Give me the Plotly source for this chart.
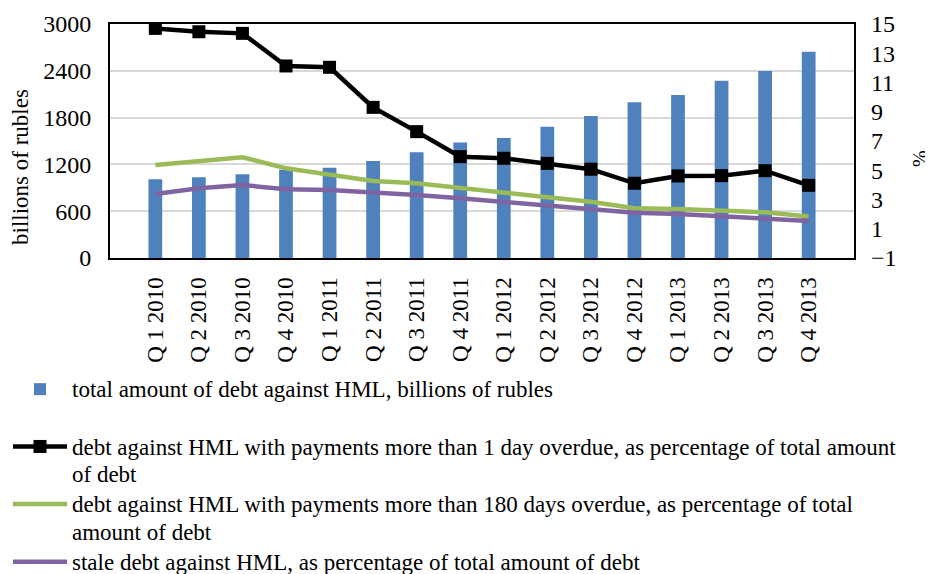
import plotly.graph_objects as go

quarters = ["Q 1 2010", "Q 2 2010", "Q 3 2010", "Q 4 2010",
            "Q 1 2011", "Q 2 2011", "Q 3 2011", "Q 4 2011",
            "Q 1 2012", "Q 2 2012", "Q 3 2012", "Q 4 2012",
            "Q 1 2013", "Q 2 2013", "Q 3 2013", "Q 4 2013"]

total_debt = [1009, 1034, 1073, 1130, 1158, 1244, 1357, 1480,
              1538, 1684, 1821, 1996, 2090, 2273, 2397, 2645]

overdue_1day = [14.7, 14.47, 14.36, 12.13, 12.04, 9.3, 7.64, 5.93,
                5.82, 5.47, 5.07, 4.11, 4.61, 4.63, 4.97, 3.97]

overdue_180 = [5.36, 5.63, 5.89, 5.13, 4.72, 4.26, 4.11, 3.77,
               3.42, 3.15, 2.85, 2.40, 2.35, 2.23, 2.12, 1.83]

stale_debt = [3.38, 3.77, 3.99, 3.70, 3.65, 3.49, 3.31, 3.08,
              2.85, 2.62, 2.40, 2.10, 2.01, 1.87, 1.71, 1.53]

left_ticks = [0, 600, 1200, 1800, 2400, 3000]
right_ticks = [-1, 1, 3, 5, 7, 9, 11, 13, 15]

names = [
    "total amount of debt against HML, billions of rubles",
    "debt against HML with payments more than 1 day overdue, as percentage of total amount<br>of debt",
    "debt against HML with payments more than 180 days overdue, as percentage of total<br>amount of debt",
    "stale debt against HML, as percentage of total amount of debt",
]

FONT = "Liberation Serif"

# the page body has an 8px margin, so the figure is drawn 8px in from the
# window's top-left corner; all positions below are relative to the figure.
W, H = 925, 566
L, T, R, B = 102, 16, 79, 316
PW = W - L - R
PH = H - T - B


def lg(t):
    return '<span style="font-size:23px">' + t.replace("<br>", '</span><br><span style="font-size:23px">') + "</span>"


fig = go.Figure()
fig.add_trace(go.Bar(x=quarters, y=total_debt, name=lg(names[0]),
                     marker=dict(color="#4F81BD", line=dict(width=0)),
                     legendgroup="a", yaxis="y"))
fig.add_trace(go.Scatter(x=quarters, y=overdue_1day, name=lg(names[1]),
                         mode="lines+markers",
                         line=dict(color="black", width=4.5),
                         marker=dict(symbol="square", size=13, color="black"),
                         legendgroup="b", yaxis="y2"))
fig.add_trace(go.Scatter(x=quarters, y=overdue_180, name=lg(names[2]),
                         mode="lines", line=dict(color="#9BBB59", width=4.5),
                         legendgroup="b", yaxis="y2"))
fig.add_trace(go.Scatter(x=quarters, y=stale_debt, name=lg(names[3]),
                         mode="lines", line=dict(color="#8064A2", width=4.5),
                         legendgroup="b", yaxis="y2"))

fig.update_layout(
    width=W, height=H,
    margin=dict(l=L, r=R, t=T, b=B, autoexpand=False),
    paper_bgcolor="white", plot_bgcolor="white",
    font=dict(family=FONT, size=23, color="black"),
    bargap=0.684,
    showlegend=True,
    legend=dict(xref="container", yref="container", x=0.0, y=1 - 361 / H,
                xanchor="left", yanchor="top",
                font=dict(family=FONT, size=21, color="black"),
                itemwidth=54, valign="top", traceorder="grouped",
                tracegroupgap=27, bgcolor="rgba(0,0,0,0)",
                itemclick=False, itemdoubleclick=False),
    xaxis=dict(type="category", tickangle=-90, ticks="",
               tickfont=dict(family=FONT, size=23, color="black"),
               showline=True, linecolor="black", linewidth=2, mirror=True,
               showgrid=False, ticklabelstandoff=8),
    yaxis=dict(range=[0, 3000], tickvals=left_ticks, ticks="",
               tickfont=dict(family=FONT, size=24, color="black"),
               showline=True, linecolor="black", linewidth=2, mirror=True,
               showgrid=True, gridcolor="#D9D9D9", gridwidth=1.5,
               zeroline=False, ticklabelstandoff=12),
    yaxis2=dict(range=[-1, 15], tickvals=right_ticks, ticks="",
                overlaying="y", side="right",
                tickfont=dict(family=FONT, size=24, color="black"),
                showgrid=False, zeroline=False, showline=False,
                ticklabelstandoff=16),
    annotations=[
        dict(text="billions of rubles", xref="paper", yref="paper",
             x=(12 - L) / PW, y=(PH - (159 - T)) / PH, textangle=-90,
             showarrow=False, xanchor="center", yanchor="middle",
             font=dict(family=FONT, size=23, color="black")),
        dict(text="%", xref="paper", yref="paper",
             x=(912 - L) / PW, y=(PH - (150 - T)) / PH, textangle=-90,
             showarrow=False, xanchor="center", yanchor="middle",
             font=dict(family=FONT, size=20, color="black")),
    ],
)

fig.write_html("out.html")
